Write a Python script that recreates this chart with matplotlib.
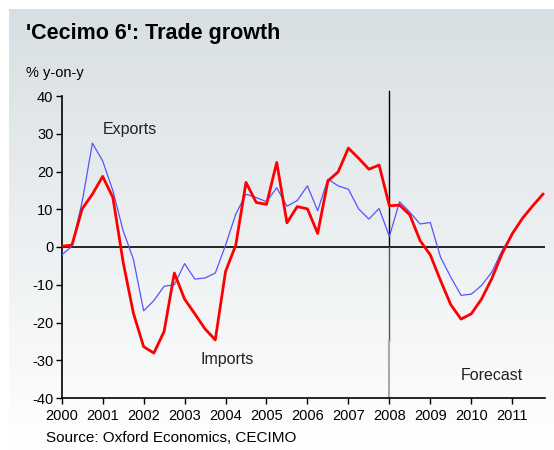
import matplotlib.pyplot as plt
import numpy as np

plt.rcParams['font.family'] = ['Liberation Sans', 'DejaVu Sans']

# quarterly data, 2000Q1 .. 2011Q4
start_year = 2000
exports = [-2.1, 0.2, 12.0, 27.5, 22.8, 14.9, 4.3, -3.2,
           -16.9, -14.2, -10.4, -10.0, -4.4, -8.5, -8.2, -6.9,
           0.5, 8.7, 14.0, 13.1, 12.0, 15.7, 10.8, 12.3,
           16.2, 9.6, 18.0, 16.2, 15.3, 10.1, 7.4, 10.2,
           2.8, 12.0, 9.2, 6.1, 6.5, -2.7, -8.0, -12.8,
           -12.5, -10.2, -6.7, -1.0, 3.5, 7.6, 10.9, 14.0]
imports = [0.2, 0.5, 10.1, 14.0, 18.7, 13.1, -4.0, -17.5,
           -26.4, -28.1, -22.4, -6.9, -13.8, -17.7, -21.7, -24.6,
           -6.5, 0.5, 17.1, 11.8, 11.3, 22.4, 6.4, 10.7,
           10.1, 3.6, 17.5, 19.9, 26.2, 23.5, 20.6, 21.7,
           10.9, 11.1, 8.5, 1.7, -2.1, -8.9, -15.3, -19.1,
           -17.7, -13.8, -8.4, -1.8, 3.5, 7.6, 10.9, 14.0]
years = list(range(2000, 2012))
yticks = [-40, -30, -20, -10, 0, 10, 20, 30, 40]

t = start_year + np.arange(len(exports)) * 0.25

fig = plt.figure(figsize=(5.54, 4.5), dpi=100)

# gradient panel behind everything
bg = fig.add_axes([9 / 554, 0, 1 - 9 / 554, 1 - 9 / 450], zorder=-10)
grad = np.linspace(0, 1, 256).reshape(-1, 1)
top = np.array([216, 223, 226]) / 255
bot = np.array([255, 255, 255]) / 255
img = top[None, None, :] * (1 - grad[:, :, None]) + bot[None, None, :] * grad[:, :, None]
bg.imshow(img, aspect='auto', extent=[0, 1, 0, 1])
bg.axis('off')

ax = fig.add_axes([61.7 / 554, (450 - 398) / 450, (545 - 61.7) / 554, 302 / 450])
ax.set_facecolor('none')

ax.plot(t, exports, color='#5555ff', lw=0.9, zorder=3)
ax.plot(t, imports, color='#ff0000', lw=2.0, zorder=4)
ax.axhline(0, color='black', lw=1.2, zorder=2)

# forecast divider
ax.plot([2008, 2008], [41.2, 0], color='black', lw=1.0, clip_on=False, zorder=2)
ax.plot([2008, 2008], [0, -25], color='#555555', lw=1.0, zorder=2)
ax.plot([2008, 2008], [-25, -40], color='#aaaaaa', lw=1.5, zorder=2)

ax.set_xlim(2000, 2011.8)
ax.set_ylim(-40, 40)
ax.set_xticks(years)
ax.set_xticklabels([str(y) for y in years], fontsize=10.5)
ax.set_yticks(yticks)
ax.set_yticklabels([str(v) for v in yticks], fontsize=10.5)
ax.tick_params(axis='both', direction='out', length=4, width=1, colors='black', pad=2)
ax.tick_params(axis='x', pad=4)
for s in ['top', 'right']:
    ax.spines[s].set_visible(False)
for s in ['left', 'bottom']:
    ax.spines[s].set_linewidth(1.2)

ax.text(2001.0, 31, 'Exports', fontsize=11.5, color='#222222', va='center', ha='left')
ax.text(2003.38, -29.9, 'Imports', fontsize=11.5, color='#222222', va='center', ha='left')
ax.text(2009.74, -34.1, 'Forecast', fontsize=11.5, color='#222222', va='center', ha='left')

fig.text(26 / 554, 1 - 33 / 450, "'Cecimo 6': Trade growth", fontsize=15.5,
         fontweight='bold', va='center', ha='left')
fig.text(26 / 554, 1 - 73 / 450, '% y-on-y', fontsize=10.5, va='center', ha='left')
fig.text(46 / 554, 1 - 438 / 450, 'Source: Oxford Economics, CECIMO', fontsize=11,
         va='center', ha='left')

fig.savefig('out.png', dpi=100)
